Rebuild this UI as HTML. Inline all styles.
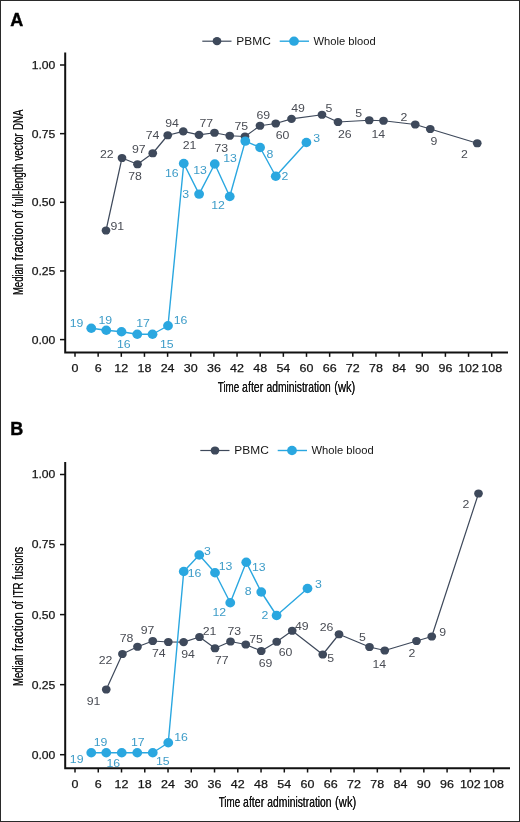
<!DOCTYPE html>
<html lang="en"><head><meta charset="utf-8"><title>Figure</title>
<style>
html,body{margin:0;padding:0;background:#fff;}
body{width:520px;height:822px;overflow:hidden;}
svg{display:block;}
text{font-family:"Liberation Sans",Arial,Helvetica,sans-serif;}
.tk{font-size:11.8px;fill:#151515;stroke:#151515;stroke-width:0.25px;}
.lg{font-size:11.4px;fill:#151515;}
.ttl{font-size:14.3px;fill:#151515;filter:drop-shadow(0.65px 0 0 #151515);}
.pl{font-size:18px;font-weight:bold;fill:#000;stroke:#000;stroke-width:0.4px;}
.d{font-size:11.7px;fill:#494c54;}
.b{font-size:11.7px;fill:#3d9cc8;}
</style></head><body>
<svg width="520" height="822" viewBox="0 0 520 822">
<rect x="0" y="0" width="520" height="822" fill="#fff"/>
<rect x="0.5" y="0.5" width="519" height="821" fill="none" stroke="#2a2a2a" stroke-width="1"/>
<text class="pl" x="10.2" y="25.8">A</text>
<g transform="translate(0 0)">
<line x1="202.3" y1="41.2" x2="231.5" y2="41.2" stroke="#3e495b" stroke-width="1.2"/>
<ellipse cx="217" cy="41.2" rx="4.35" ry="4.1" fill="#3e495b"/>
<text class="lg" x="236.3" y="44.7" textLength="34.5" lengthAdjust="spacingAndGlyphs">PBMC</text>
<line x1="279.7" y1="41.2" x2="309" y2="41.2" stroke="#2aa7e0" stroke-width="1.4"/>
<ellipse cx="294" cy="41.2" rx="4.9" ry="4.65" fill="#2aa7e0"/>
<text class="lg" x="313.5" y="44.7" textLength="62.2" lengthAdjust="spacingAndGlyphs">Whole blood</text>
</g>
<g stroke="#111111" stroke-width="1.5" fill="none">
<path d="M65.2 52.5 V352.55 H508" stroke-width="2"/>
<line x1="60" y1="339.6" x2="65.2" y2="339.6"/>
<line x1="60" y1="270.95" x2="65.2" y2="270.95"/>
<line x1="60" y1="202.3" x2="65.2" y2="202.3"/>
<line x1="60" y1="133.65" x2="65.2" y2="133.65"/>
<line x1="60" y1="65" x2="65.2" y2="65"/>
<line x1="75" y1="352.55" x2="75" y2="356.85"/>
<line x1="98.15" y1="352.55" x2="98.15" y2="356.85"/>
<line x1="121.3" y1="352.55" x2="121.3" y2="356.85"/>
<line x1="144.45" y1="352.55" x2="144.45" y2="356.85"/>
<line x1="167.6" y1="352.55" x2="167.6" y2="356.85"/>
<line x1="190.75" y1="352.55" x2="190.75" y2="356.85"/>
<line x1="213.9" y1="352.55" x2="213.9" y2="356.85"/>
<line x1="237.05" y1="352.55" x2="237.05" y2="356.85"/>
<line x1="260.2" y1="352.55" x2="260.2" y2="356.85"/>
<line x1="283.35" y1="352.55" x2="283.35" y2="356.85"/>
<line x1="306.5" y1="352.55" x2="306.5" y2="356.85"/>
<line x1="329.65" y1="352.55" x2="329.65" y2="356.85"/>
<line x1="352.8" y1="352.55" x2="352.8" y2="356.85"/>
<line x1="375.95" y1="352.55" x2="375.95" y2="356.85"/>
<line x1="399.1" y1="352.55" x2="399.1" y2="356.85"/>
<line x1="422.25" y1="352.55" x2="422.25" y2="356.85"/>
<line x1="445.4" y1="352.55" x2="445.4" y2="356.85"/>
<line x1="468.55" y1="352.55" x2="468.55" y2="356.85"/>
<line x1="491.7" y1="352.55" x2="491.7" y2="356.85"/>
</g>
<g class="tk" text-anchor="end">
<text x="55.4" y="343.5" textLength="23.7" lengthAdjust="spacingAndGlyphs">0.00</text>
<text x="55.4" y="274.85" textLength="23.7" lengthAdjust="spacingAndGlyphs">0.25</text>
<text x="55.4" y="206.2" textLength="23.7" lengthAdjust="spacingAndGlyphs">0.50</text>
<text x="55.4" y="137.55" textLength="23.7" lengthAdjust="spacingAndGlyphs">0.75</text>
<text x="55.4" y="68.9" textLength="23.7" lengthAdjust="spacingAndGlyphs">1.00</text>
</g>
<g class="tk" text-anchor="middle">
<text x="75" y="372.05" textLength="6.95" lengthAdjust="spacingAndGlyphs">0</text>
<text x="98.15" y="372.05" textLength="6.95" lengthAdjust="spacingAndGlyphs">6</text>
<text x="121.3" y="372.05" textLength="13.9" lengthAdjust="spacingAndGlyphs">12</text>
<text x="144.45" y="372.05" textLength="13.9" lengthAdjust="spacingAndGlyphs">18</text>
<text x="167.6" y="372.05" textLength="13.9" lengthAdjust="spacingAndGlyphs">24</text>
<text x="190.75" y="372.05" textLength="13.9" lengthAdjust="spacingAndGlyphs">30</text>
<text x="213.9" y="372.05" textLength="13.9" lengthAdjust="spacingAndGlyphs">36</text>
<text x="237.05" y="372.05" textLength="13.9" lengthAdjust="spacingAndGlyphs">42</text>
<text x="260.2" y="372.05" textLength="13.9" lengthAdjust="spacingAndGlyphs">48</text>
<text x="283.35" y="372.05" textLength="13.9" lengthAdjust="spacingAndGlyphs">54</text>
<text x="306.5" y="372.05" textLength="13.9" lengthAdjust="spacingAndGlyphs">60</text>
<text x="329.65" y="372.05" textLength="13.9" lengthAdjust="spacingAndGlyphs">66</text>
<text x="352.8" y="372.05" textLength="13.9" lengthAdjust="spacingAndGlyphs">72</text>
<text x="375.95" y="372.05" textLength="13.9" lengthAdjust="spacingAndGlyphs">78</text>
<text x="399.1" y="372.05" textLength="13.9" lengthAdjust="spacingAndGlyphs">84</text>
<text x="422.25" y="372.05" textLength="13.9" lengthAdjust="spacingAndGlyphs">90</text>
<text x="445.4" y="372.05" textLength="13.9" lengthAdjust="spacingAndGlyphs">96</text>
<text x="468.55" y="372.05" textLength="20.85" lengthAdjust="spacingAndGlyphs">102</text>
<text x="491.7" y="372.05" textLength="20.85" lengthAdjust="spacingAndGlyphs">108</text>
</g>
<text class="ttl" y="392.2"><tspan x="217.78" textLength="21.55" lengthAdjust="spacingAndGlyphs">Time</tspan> <tspan x="242.12" textLength="21.13" lengthAdjust="spacingAndGlyphs">after</tspan> <tspan x="266.42" textLength="64.22" lengthAdjust="spacingAndGlyphs">administration</tspan> <tspan x="334.22" textLength="21.07" lengthAdjust="spacingAndGlyphs">(wk)</tspan></text>
<text class="ttl" style="font-size:15.2px" transform="translate(23 300) rotate(-90)"><tspan x="4.92" textLength="31.2" lengthAdjust="spacingAndGlyphs">Median</tspan> <tspan x="39.6" textLength="39.28" lengthAdjust="spacingAndGlyphs">fraction</tspan> <tspan x="81.38" textLength="8.32" lengthAdjust="spacingAndGlyphs">of</tspan> <tspan x="93.19" textLength="42.95" lengthAdjust="spacingAndGlyphs">full-length</tspan> <tspan x="139.13" textLength="27.58" lengthAdjust="spacingAndGlyphs">vector</tspan> <tspan x="169.99" textLength="20.37" lengthAdjust="spacingAndGlyphs">DNA</tspan></text>
<polyline fill="none" stroke="#3e495b" stroke-width="1.2" stroke-linejoin="round" points="106,230.5 122,158 137.5,164.25 152.75,153.25 167.75,135.25 183.25,131.4 199,134.9 214.5,132.75 229.75,135.75 245,136.5 260,125.75 275.75,123.5 291.5,118.9 322,114.75 338,122 369.25,120.25 383.5,120.75 415.25,124.5 430.25,129 477.25,143.25"/>
<g fill="#3e495b">
<ellipse cx="106" cy="230.5" rx="4.35" ry="4.1"/>
<ellipse cx="122" cy="158" rx="4.35" ry="4.1"/>
<ellipse cx="137.5" cy="164.25" rx="4.35" ry="4.1"/>
<ellipse cx="152.75" cy="153.25" rx="4.35" ry="4.1"/>
<ellipse cx="167.75" cy="135.25" rx="4.35" ry="4.1"/>
<ellipse cx="183.25" cy="131.4" rx="4.35" ry="4.1"/>
<ellipse cx="199" cy="134.9" rx="4.35" ry="4.1"/>
<ellipse cx="214.5" cy="132.75" rx="4.35" ry="4.1"/>
<ellipse cx="229.75" cy="135.75" rx="4.35" ry="4.1"/>
<ellipse cx="245" cy="136.5" rx="4.35" ry="4.1"/>
<ellipse cx="260" cy="125.75" rx="4.35" ry="4.1"/>
<ellipse cx="275.75" cy="123.5" rx="4.35" ry="4.1"/>
<ellipse cx="291.5" cy="118.9" rx="4.35" ry="4.1"/>
<ellipse cx="322" cy="114.75" rx="4.35" ry="4.1"/>
<ellipse cx="338" cy="122" rx="4.35" ry="4.1"/>
<ellipse cx="369.25" cy="120.25" rx="4.35" ry="4.1"/>
<ellipse cx="383.5" cy="120.75" rx="4.35" ry="4.1"/>
<ellipse cx="415.25" cy="124.5" rx="4.35" ry="4.1"/>
<ellipse cx="430.25" cy="129" rx="4.35" ry="4.1"/>
<ellipse cx="477.25" cy="143.25" rx="4.35" ry="4.1"/>
</g>
<polyline fill="none" stroke="#2aa7e0" stroke-width="1.4" stroke-linejoin="round" points="91.25,328.25 106.25,330.25 121.5,331.75 137.25,334.25 152.5,334.25 168,325.75 183.75,163.5 199.1,194.1 214.75,164 229.75,196.5 245.3,141.1 260.1,147.5 275.75,176.25 306.4,142.5"/>
<g fill="#2aa7e0">
<ellipse cx="91.25" cy="328.25" rx="4.9" ry="4.65"/>
<ellipse cx="106.25" cy="330.25" rx="4.9" ry="4.65"/>
<ellipse cx="121.5" cy="331.75" rx="4.9" ry="4.65"/>
<ellipse cx="137.25" cy="334.25" rx="4.9" ry="4.65"/>
<ellipse cx="152.5" cy="334.25" rx="4.9" ry="4.65"/>
<ellipse cx="168" cy="325.75" rx="4.9" ry="4.65"/>
<ellipse cx="183.75" cy="163.5" rx="4.9" ry="4.65"/>
<ellipse cx="199.1" cy="194.1" rx="4.9" ry="4.65"/>
<ellipse cx="214.75" cy="164" rx="4.9" ry="4.65"/>
<ellipse cx="229.75" cy="196.5" rx="4.9" ry="4.65"/>
<ellipse cx="245.3" cy="141.1" rx="4.9" ry="4.65"/>
<ellipse cx="260.1" cy="147.5" rx="4.9" ry="4.65"/>
<ellipse cx="275.75" cy="176.25" rx="4.9" ry="4.65"/>
<ellipse cx="306.4" cy="142.5" rx="4.9" ry="4.65"/>
</g>
<g class="d" text-anchor="middle">
<text x="117.25" y="230.4" textLength="13.7" lengthAdjust="spacingAndGlyphs">91</text>
<text x="106.75" y="157.9" textLength="13.7" lengthAdjust="spacingAndGlyphs">22</text>
<text x="135" y="179.9" textLength="13.7" lengthAdjust="spacingAndGlyphs">78</text>
<text x="138.75" y="153.15" textLength="13.7" lengthAdjust="spacingAndGlyphs">97</text>
<text x="152.5" y="139.15" textLength="13.7" lengthAdjust="spacingAndGlyphs">74</text>
<text x="172" y="126.65" textLength="13.7" lengthAdjust="spacingAndGlyphs">94</text>
<text x="189.5" y="148.65" textLength="13.7" lengthAdjust="spacingAndGlyphs">21</text>
<text x="206.25" y="126.65" textLength="13.7" lengthAdjust="spacingAndGlyphs">77</text>
<text x="221.25" y="151.65" textLength="13.7" lengthAdjust="spacingAndGlyphs">73</text>
<text x="241.25" y="130.4" textLength="13.7" lengthAdjust="spacingAndGlyphs">75</text>
<text x="263.25" y="119.15" textLength="13.7" lengthAdjust="spacingAndGlyphs">69</text>
<text x="282.5" y="139.15" textLength="13.7" lengthAdjust="spacingAndGlyphs">60</text>
<text x="298" y="112.15" textLength="13.7" lengthAdjust="spacingAndGlyphs">49</text>
<text x="329" y="111.65" textLength="6.85" lengthAdjust="spacingAndGlyphs">5</text>
<text x="344.75" y="138.4" textLength="13.7" lengthAdjust="spacingAndGlyphs">26</text>
<text x="358.75" y="117.4" textLength="6.85" lengthAdjust="spacingAndGlyphs">5</text>
<text x="378.25" y="138.4" textLength="13.7" lengthAdjust="spacingAndGlyphs">14</text>
<text x="403.9" y="120.9" textLength="6.85" lengthAdjust="spacingAndGlyphs">2</text>
<text x="434" y="144.65" textLength="6.85" lengthAdjust="spacingAndGlyphs">9</text>
<text x="464.5" y="158.15" textLength="6.85" lengthAdjust="spacingAndGlyphs">2</text>
</g>
<g class="b" text-anchor="middle">
<text x="76.5" y="327.4" textLength="13.7" lengthAdjust="spacingAndGlyphs">19</text>
<text x="105.25" y="324.15" textLength="13.7" lengthAdjust="spacingAndGlyphs">19</text>
<text x="123.75" y="348.4" textLength="13.7" lengthAdjust="spacingAndGlyphs">16</text>
<text x="143" y="327.4" textLength="13.7" lengthAdjust="spacingAndGlyphs">17</text>
<text x="166.75" y="348.4" textLength="13.7" lengthAdjust="spacingAndGlyphs">15</text>
<text x="180.5" y="323.65" textLength="13.7" lengthAdjust="spacingAndGlyphs">16</text>
<text x="171.75" y="177.15" textLength="13.7" lengthAdjust="spacingAndGlyphs">16</text>
<text x="185.75" y="197.9" textLength="6.85" lengthAdjust="spacingAndGlyphs">3</text>
<text x="200" y="173.65" textLength="13.7" lengthAdjust="spacingAndGlyphs">13</text>
<text x="230" y="161.95" textLength="13.7" lengthAdjust="spacingAndGlyphs">13</text>
<text x="218" y="209.15" textLength="13.7" lengthAdjust="spacingAndGlyphs">12</text>
<text x="270" y="157.9" textLength="6.85" lengthAdjust="spacingAndGlyphs">8</text>
<text x="285" y="180.4" textLength="6.85" lengthAdjust="spacingAndGlyphs">2</text>
<text x="316.75" y="142.15" textLength="6.85" lengthAdjust="spacingAndGlyphs">3</text>
</g>
<text class="pl" x="10.2" y="435">B</text>
<g transform="translate(-2 0)">
<line x1="202.3" y1="450.5" x2="231.5" y2="450.5" stroke="#3e495b" stroke-width="1.2"/>
<ellipse cx="217" cy="450.5" rx="4.35" ry="4.1" fill="#3e495b"/>
<text class="lg" x="236.3" y="454" textLength="34.5" lengthAdjust="spacingAndGlyphs">PBMC</text>
<line x1="279.7" y1="450.5" x2="309" y2="450.5" stroke="#2aa7e0" stroke-width="1.4"/>
<ellipse cx="294" cy="450.5" rx="4.9" ry="4.65" fill="#2aa7e0"/>
<text class="lg" x="313.5" y="454" textLength="62.2" lengthAdjust="spacingAndGlyphs">Whole blood</text>
</g>
<g stroke="#111111" stroke-width="1.5" fill="none">
<path d="M65.2 462 V768.2 H510" stroke-width="2"/>
<line x1="60" y1="754.7" x2="65.2" y2="754.7"/>
<line x1="60" y1="684.65" x2="65.2" y2="684.65"/>
<line x1="60" y1="614.6" x2="65.2" y2="614.6"/>
<line x1="60" y1="544.55" x2="65.2" y2="544.55"/>
<line x1="60" y1="474.5" x2="65.2" y2="474.5"/>
<line x1="75" y1="768.2" x2="75" y2="772.5"/>
<line x1="98.26" y1="768.2" x2="98.26" y2="772.5"/>
<line x1="121.51" y1="768.2" x2="121.51" y2="772.5"/>
<line x1="144.77" y1="768.2" x2="144.77" y2="772.5"/>
<line x1="168.02" y1="768.2" x2="168.02" y2="772.5"/>
<line x1="191.28" y1="768.2" x2="191.28" y2="772.5"/>
<line x1="214.53" y1="768.2" x2="214.53" y2="772.5"/>
<line x1="237.79" y1="768.2" x2="237.79" y2="772.5"/>
<line x1="261.04" y1="768.2" x2="261.04" y2="772.5"/>
<line x1="284.3" y1="768.2" x2="284.3" y2="772.5"/>
<line x1="307.56" y1="768.2" x2="307.56" y2="772.5"/>
<line x1="330.81" y1="768.2" x2="330.81" y2="772.5"/>
<line x1="354.07" y1="768.2" x2="354.07" y2="772.5"/>
<line x1="377.32" y1="768.2" x2="377.32" y2="772.5"/>
<line x1="400.58" y1="768.2" x2="400.58" y2="772.5"/>
<line x1="423.83" y1="768.2" x2="423.83" y2="772.5"/>
<line x1="447.09" y1="768.2" x2="447.09" y2="772.5"/>
<line x1="470.34" y1="768.2" x2="470.34" y2="772.5"/>
<line x1="493.6" y1="768.2" x2="493.6" y2="772.5"/>
</g>
<g class="tk" text-anchor="end">
<text x="55.4" y="758.6" textLength="23.7" lengthAdjust="spacingAndGlyphs">0.00</text>
<text x="55.4" y="688.55" textLength="23.7" lengthAdjust="spacingAndGlyphs">0.25</text>
<text x="55.4" y="618.5" textLength="23.7" lengthAdjust="spacingAndGlyphs">0.50</text>
<text x="55.4" y="548.45" textLength="23.7" lengthAdjust="spacingAndGlyphs">0.75</text>
<text x="55.4" y="478.4" textLength="23.7" lengthAdjust="spacingAndGlyphs">1.00</text>
</g>
<g class="tk" text-anchor="middle">
<text x="75" y="787.7" textLength="6.95" lengthAdjust="spacingAndGlyphs">0</text>
<text x="98.26" y="787.7" textLength="6.95" lengthAdjust="spacingAndGlyphs">6</text>
<text x="121.51" y="787.7" textLength="13.9" lengthAdjust="spacingAndGlyphs">12</text>
<text x="144.77" y="787.7" textLength="13.9" lengthAdjust="spacingAndGlyphs">18</text>
<text x="168.02" y="787.7" textLength="13.9" lengthAdjust="spacingAndGlyphs">24</text>
<text x="191.28" y="787.7" textLength="13.9" lengthAdjust="spacingAndGlyphs">30</text>
<text x="214.53" y="787.7" textLength="13.9" lengthAdjust="spacingAndGlyphs">36</text>
<text x="237.79" y="787.7" textLength="13.9" lengthAdjust="spacingAndGlyphs">42</text>
<text x="261.04" y="787.7" textLength="13.9" lengthAdjust="spacingAndGlyphs">48</text>
<text x="284.3" y="787.7" textLength="13.9" lengthAdjust="spacingAndGlyphs">54</text>
<text x="307.56" y="787.7" textLength="13.9" lengthAdjust="spacingAndGlyphs">60</text>
<text x="330.81" y="787.7" textLength="13.9" lengthAdjust="spacingAndGlyphs">66</text>
<text x="354.07" y="787.7" textLength="13.9" lengthAdjust="spacingAndGlyphs">72</text>
<text x="377.32" y="787.7" textLength="13.9" lengthAdjust="spacingAndGlyphs">78</text>
<text x="400.58" y="787.7" textLength="13.9" lengthAdjust="spacingAndGlyphs">84</text>
<text x="423.83" y="787.7" textLength="13.9" lengthAdjust="spacingAndGlyphs">90</text>
<text x="447.09" y="787.7" textLength="13.9" lengthAdjust="spacingAndGlyphs">96</text>
<text x="470.34" y="787.7" textLength="20.85" lengthAdjust="spacingAndGlyphs">102</text>
<text x="493.6" y="787.7" textLength="20.85" lengthAdjust="spacingAndGlyphs">108</text>
</g>
<text class="ttl" y="806.8"><tspan x="218.68" textLength="21.55" lengthAdjust="spacingAndGlyphs">Time</tspan> <tspan x="243.02" textLength="21.13" lengthAdjust="spacingAndGlyphs">after</tspan> <tspan x="267.32" textLength="64.22" lengthAdjust="spacingAndGlyphs">administration</tspan> <tspan x="335.12" textLength="21.07" lengthAdjust="spacingAndGlyphs">(wk)</tspan></text>
<text class="ttl" style="font-size:15.2px" transform="translate(23 700) rotate(-90)"><tspan x="14.02" textLength="31.2" lengthAdjust="spacingAndGlyphs">Median</tspan> <tspan x="48.7" textLength="39.28" lengthAdjust="spacingAndGlyphs">fraction</tspan> <tspan x="90.48" textLength="8.32" lengthAdjust="spacingAndGlyphs">of</tspan> <tspan x="102.12" textLength="15.38" lengthAdjust="spacingAndGlyphs">ITR</tspan> <tspan x="120.44" textLength="32.77" lengthAdjust="spacingAndGlyphs">fusions</tspan></text>
<polyline fill="none" stroke="#3e495b" stroke-width="1.2" stroke-linejoin="round" points="106.25,689.5 122.4,654 137.5,646.75 152.75,641 168.3,642 183.6,642.1 199.5,637 215,648.25 230.5,641.5 245.75,644.5 261.25,651 276.75,641.75 292.2,630.75 322.75,654.5 339,634.25 369.5,647 384.75,650.5 416.5,641 431.75,636.5 478.5,493.5"/>
<g fill="#3e495b">
<ellipse cx="106.25" cy="689.5" rx="4.35" ry="4.1"/>
<ellipse cx="122.4" cy="654" rx="4.35" ry="4.1"/>
<ellipse cx="137.5" cy="646.75" rx="4.35" ry="4.1"/>
<ellipse cx="152.75" cy="641" rx="4.35" ry="4.1"/>
<ellipse cx="168.3" cy="642" rx="4.35" ry="4.1"/>
<ellipse cx="183.6" cy="642.1" rx="4.35" ry="4.1"/>
<ellipse cx="199.5" cy="637" rx="4.35" ry="4.1"/>
<ellipse cx="215" cy="648.25" rx="4.35" ry="4.1"/>
<ellipse cx="230.5" cy="641.5" rx="4.35" ry="4.1"/>
<ellipse cx="245.75" cy="644.5" rx="4.35" ry="4.1"/>
<ellipse cx="261.25" cy="651" rx="4.35" ry="4.1"/>
<ellipse cx="276.75" cy="641.75" rx="4.35" ry="4.1"/>
<ellipse cx="292.2" cy="630.75" rx="4.35" ry="4.1"/>
<ellipse cx="322.75" cy="654.5" rx="4.35" ry="4.1"/>
<ellipse cx="339" cy="634.25" rx="4.35" ry="4.1"/>
<ellipse cx="369.5" cy="647" rx="4.35" ry="4.1"/>
<ellipse cx="384.75" cy="650.5" rx="4.35" ry="4.1"/>
<ellipse cx="416.5" cy="641" rx="4.35" ry="4.1"/>
<ellipse cx="431.75" cy="636.5" rx="4.35" ry="4.1"/>
<ellipse cx="478.5" cy="493.5" rx="4.35" ry="4.1"/>
</g>
<polyline fill="none" stroke="#2aa7e0" stroke-width="1.4" stroke-linejoin="round" points="91.25,752.75 106.25,752.75 121.75,752.75 137.25,752.75 152.75,752.75 168.25,742.75 183.75,571.5 199.25,555 215,572.75 230.25,602.75 246.25,562.25 261.25,592 276.6,615.5 307.5,588.5"/>
<g fill="#2aa7e0">
<ellipse cx="91.25" cy="752.75" rx="4.9" ry="4.65"/>
<ellipse cx="106.25" cy="752.75" rx="4.9" ry="4.65"/>
<ellipse cx="121.75" cy="752.75" rx="4.9" ry="4.65"/>
<ellipse cx="137.25" cy="752.75" rx="4.9" ry="4.65"/>
<ellipse cx="152.75" cy="752.75" rx="4.9" ry="4.65"/>
<ellipse cx="168.25" cy="742.75" rx="4.9" ry="4.65"/>
<ellipse cx="183.75" cy="571.5" rx="4.9" ry="4.65"/>
<ellipse cx="199.25" cy="555" rx="4.9" ry="4.65"/>
<ellipse cx="215" cy="572.75" rx="4.9" ry="4.65"/>
<ellipse cx="230.25" cy="602.75" rx="4.9" ry="4.65"/>
<ellipse cx="246.25" cy="562.25" rx="4.9" ry="4.65"/>
<ellipse cx="261.25" cy="592" rx="4.9" ry="4.65"/>
<ellipse cx="276.6" cy="615.5" rx="4.9" ry="4.65"/>
<ellipse cx="307.5" cy="588.5" rx="4.9" ry="4.65"/>
</g>
<g class="d" text-anchor="middle">
<text x="93.5" y="705.4" textLength="13.7" lengthAdjust="spacingAndGlyphs">91</text>
<text x="105.5" y="664.15" textLength="13.7" lengthAdjust="spacingAndGlyphs">22</text>
<text x="126.5" y="642.15" textLength="13.7" lengthAdjust="spacingAndGlyphs">78</text>
<text x="147.5" y="634.15" textLength="13.7" lengthAdjust="spacingAndGlyphs">97</text>
<text x="158.75" y="657.4" textLength="13.7" lengthAdjust="spacingAndGlyphs">74</text>
<text x="188" y="657.65" textLength="13.7" lengthAdjust="spacingAndGlyphs">94</text>
<text x="209.5" y="634.9" textLength="13.7" lengthAdjust="spacingAndGlyphs">21</text>
<text x="221.75" y="664.4" textLength="13.7" lengthAdjust="spacingAndGlyphs">77</text>
<text x="234.25" y="634.65" textLength="13.7" lengthAdjust="spacingAndGlyphs">73</text>
<text x="256" y="642.9" textLength="13.7" lengthAdjust="spacingAndGlyphs">75</text>
<text x="265.5" y="666.65" textLength="13.7" lengthAdjust="spacingAndGlyphs">69</text>
<text x="285.5" y="655.75" textLength="13.7" lengthAdjust="spacingAndGlyphs">60</text>
<text x="301.75" y="629.65" textLength="13.7" lengthAdjust="spacingAndGlyphs">49</text>
<text x="326.5" y="630.65" textLength="13.7" lengthAdjust="spacingAndGlyphs">26</text>
<text x="330.75" y="661.65" textLength="6.85" lengthAdjust="spacingAndGlyphs">5</text>
<text x="362.5" y="640.65" textLength="6.85" lengthAdjust="spacingAndGlyphs">5</text>
<text x="379.25" y="667.9" textLength="13.7" lengthAdjust="spacingAndGlyphs">14</text>
<text x="412" y="657.4" textLength="6.85" lengthAdjust="spacingAndGlyphs">2</text>
<text x="442.75" y="636.15" textLength="6.85" lengthAdjust="spacingAndGlyphs">9</text>
<text x="466" y="508.15" textLength="6.85" lengthAdjust="spacingAndGlyphs">2</text>
</g>
<g class="b" text-anchor="middle">
<text x="76.7" y="763.25" textLength="13.7" lengthAdjust="spacingAndGlyphs">19</text>
<text x="100.5" y="746.15" textLength="13.7" lengthAdjust="spacingAndGlyphs">19</text>
<text x="113.25" y="766.65" textLength="13.7" lengthAdjust="spacingAndGlyphs">16</text>
<text x="137.75" y="745.65" textLength="13.7" lengthAdjust="spacingAndGlyphs">17</text>
<text x="162.75" y="765.15" textLength="13.7" lengthAdjust="spacingAndGlyphs">15</text>
<text x="181" y="741.15" textLength="13.7" lengthAdjust="spacingAndGlyphs">16</text>
<text x="207.5" y="555.15" textLength="6.85" lengthAdjust="spacingAndGlyphs">3</text>
<text x="194.5" y="576.65" textLength="13.7" lengthAdjust="spacingAndGlyphs">16</text>
<text x="225.5" y="570.4" textLength="13.7" lengthAdjust="spacingAndGlyphs">13</text>
<text x="219.25" y="616.05" textLength="13.7" lengthAdjust="spacingAndGlyphs">12</text>
<text x="258.75" y="571.15" textLength="13.7" lengthAdjust="spacingAndGlyphs">13</text>
<text x="248.25" y="594.65" textLength="6.85" lengthAdjust="spacingAndGlyphs">8</text>
<text x="265" y="619.15" textLength="6.85" lengthAdjust="spacingAndGlyphs">2</text>
<text x="318.5" y="587.65" textLength="6.85" lengthAdjust="spacingAndGlyphs">3</text>
</g>
</svg>
</body></html>
